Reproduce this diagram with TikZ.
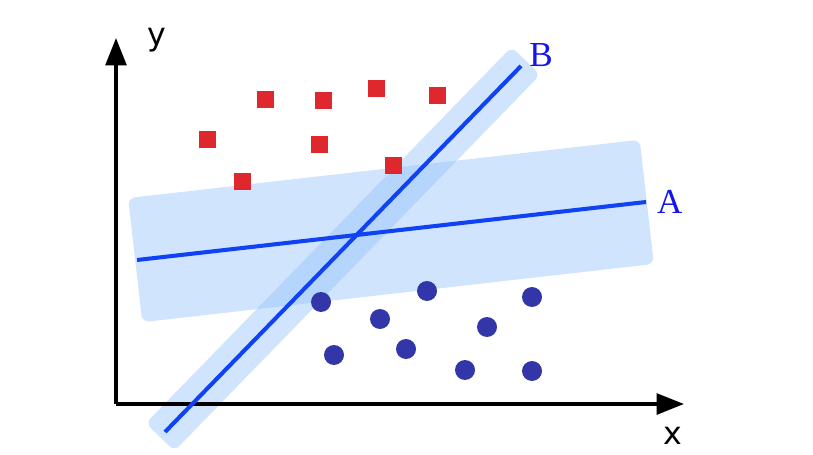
\documentclass[tikz,border=0pt]{standalone}
\usepackage{fontspec}
\usepackage{tikz}
\usetikzlibrary{positioning,arrows.meta}
\newfontfamily\axisfont{DejaVu Sans}
\newfontfamily\lblfont{Liberation Serif}
\definecolor{bandfill}{RGB}{150,195,250}
\definecolor{sepline}{RGB}{15,65,245}
\definecolor{sqred}{RGB}{222,40,46}
\definecolor{dotblue}{RGB}{50,54,168}
\definecolor{lblblue}{RGB}{20,20,235}
\tikzset{
  band/.style={fill=bandfill,fill opacity=0.45,rounded corners=4pt,inner sep=0pt},
  sep/.style={draw=sepline,line width=2.3pt},
  ax/.style={line width=1.8pt,-{Triangle[length=5.5mm,width=4.2mm]}},
  sq/.style={fill=sqred,minimum size=0.34cm,inner sep=0pt},
  dot/.style={circle,fill=dotblue,minimum size=0.4cm,inner sep=0pt},
  lbl/.style={text=lblblue,font=\lblfont\fontsize{20}{23}\selectfont},
  axl/.style={font=\axisfont\fontsize{18}{21}\selectfont},
}
\begin{document}
\begin{tikzpicture}[x=0.02cm,y=-0.02cm]
  \useasboundingbox (0,0) rectangle (813,455);
  % margins
  \node[band,rotate=6.5,minimum width=10.3cm,minimum height=2.5cm] (bandA) at (391,231) {};
  \node[band,rotate=45.8,minimum width=10.5cm,minimum height=0.8cm] (bandB) at (343,249) {};
  % axes
  \coordinate (o) at (116,404);
  \coordinate (ytip) at (116,38);
  \coordinate (xtip) at (684,404);
  \draw[ax] (o) -- (ytip);
  \draw[ax] (o) -- (xtip);
  \node[axl] (ylab) at (157,40) {y};
  \node[axl] (xlab) at (673,436) {x};
  % separating lines
  \coordinate (a1) at (137,260);
  \coordinate (a2) at (646,202);
  \coordinate (b1) at (165,432);
  \coordinate (b2) at (521,66);
  \draw[sep] (a1) -- (a2);
  \draw[sep] (b1) -- (b2);
  \node[lbl,right=0.1cm of a2] (labA) {A};
  \node[lbl] (labB) at (541,55) {B};
  % classes
  \foreach \px/\py [count=\i] in {265/100,323/101,376/89,437/96,207/140,319/145,393/166,242/182}
    \node[sq] (r\i) at (\px,\py) {};
  \foreach \px/\py [count=\i] in {321/302,427/291,532/297,380/319,487/327,334/355,406/349,465/370,532/371}
    \node[dot] (c\i) at (\px,\py) {};
\end{tikzpicture}
\end{document}
